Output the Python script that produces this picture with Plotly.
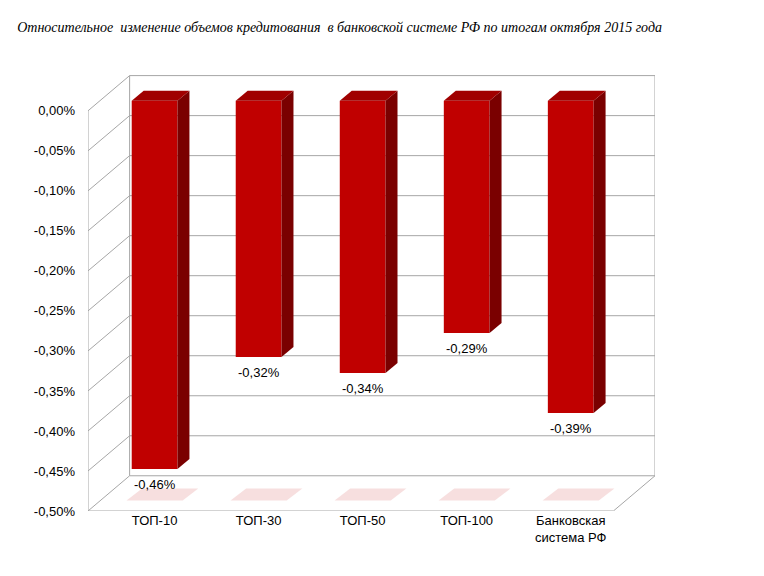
import plotly.graph_objects as go

categories = ["ТОП-10", "ТОП-30", "ТОП-50", "ТОП-100", "Банковская<br>система РФ"]
values = [-0.46, -0.32, -0.34, -0.29, -0.39]
labels = ["-0,46%", "-0,32%", "-0,34%", "-0,29%", "-0,39%"]
tick_vals = [0, -0.05, -0.1, -0.15, -0.2, -0.25, -0.3, -0.35, -0.4, -0.45, -0.5]
tick_text = ["0,00%", "-0,05%", "-0,10%", "-0,15%", "-0,20%", "-0,25%",
             "-0,30%", "-0,35%", "-0,40%", "-0,45%", "-0,50%"]

x_left, x_right = -0.64, 4.81   # front axis / back wall right edge
dx, dy = 0.40, 0.044            # wall depth offset
hw, sdx, sdy = 0.22, 0.115, 0.0125  # bar half width, bar depth offsets
grid = "#a6a6a6"

fig = go.Figure()

# floor
fig.add_trace(go.Scatter(
    x=[x_left, x_right - dx, x_right, x_left + dx, x_left],
    y=[-0.5, -0.5, -0.5 + dy, -0.5 + dy, -0.5],
    fill="toself", fillcolor="white", mode="lines",
    line=dict(color=grid, width=1), hoverinfo="skip"))

# walls and grid lines
for v in tick_vals[:-1]:
    fig.add_trace(go.Scatter(
        x=[x_left, x_left + dx, x_right], y=[v, v + dy, v + dy],
        mode="lines", line=dict(color=grid, width=1), hoverinfo="skip"))
fig.add_trace(go.Scatter(
    x=[x_left + dx, x_left + dx, None, x_right, x_right, None, x_left, x_left],
    y=[-0.5 + dy, dy, None, -0.5 + dy, dy, None, -0.5, 0],
    mode="lines", line=dict(color=grid, width=1), hoverinfo="skip"))

# floor shadows
for i in range(len(values)):
    fig.add_trace(go.Scatter(
        x=[i - hw - 0.05, i + hw + 0.05, i + hw + 0.2, i - hw + 0.1, i - hw - 0.05],
        y=[-0.487, -0.487, -0.472, -0.472, -0.487],
        fill="toself", fillcolor="rgba(230,150,150,0.3)", mode="none",
        hoverinfo="skip"))

# bars: front, side, top
for i, v in enumerate(values):
    fig.add_trace(go.Scatter(
        x=[i - hw, i + hw, i + hw, i - hw, i - hw],
        y=[v + sdy, v + sdy, sdy, sdy, v + sdy],
        fill="toself", fillcolor="#c00000", mode="none", name=categories[i]))
    fig.add_trace(go.Scatter(
        x=[i + hw, i + hw + sdx, i + hw + sdx, i + hw, i + hw],
        y=[v + sdy, v + 2 * sdy, 2 * sdy, sdy, v + sdy],
        fill="toself", fillcolor="#7a0000", mode="none", hoverinfo="skip"))
    fig.add_trace(go.Scatter(
        x=[i - hw, i - hw + sdx, i + hw + sdx, i + hw, i - hw],
        y=[sdy, 2 * sdy, 2 * sdy, sdy, sdy],
        fill="toself", fillcolor="#a00000", mode="none", hoverinfo="skip"))
    fig.add_annotation(x=i, y=v + sdy, text=labels[i], showarrow=False,
                       yanchor="top", yshift=-6,
                       font=dict(family="Liberation Sans", size=13, color="black"))

fig.update_layout(
    width=764, height=576, showlegend=False,
    plot_bgcolor="white", paper_bgcolor="white",
    margin=dict(l=80, r=117, t=66, b=73),
    font=dict(family="Liberation Sans", size=13, color="black"),
    title=dict(text="Относительное  изменение объемов кредитования  в банковской системе РФ по итогам октября 2015 года",
               x=0.012, y=0.967, xanchor="left", yanchor="middle",
               font=dict(family="Liberation Serif", size=14, color="black", style="italic")),
    xaxis=dict(range=[x_left, x_right], tickvals=list(range(len(categories))),
               ticktext=categories, showgrid=False, zeroline=False, ticks="",
               showline=False, automargin=False),
    yaxis=dict(range=[-0.5, dy + 0.002], tickvals=tick_vals, ticktext=tick_text,
               showgrid=False, zeroline=False, ticks="", ticklabelstandoff=12,
               automargin=False),
)

fig.write_html("out.html")
